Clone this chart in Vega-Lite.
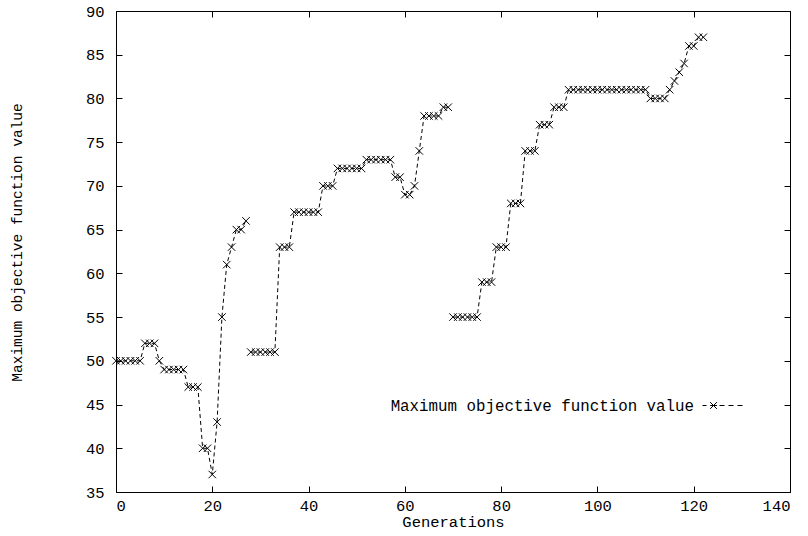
{
  "$schema": "https://vega.github.io/schema/vega-lite/v6.json",
  "width": 674,
  "height": 481,
  "autosize": {"type": "none"},
  "padding": {"left": 116, "top": 11, "right": 18, "bottom": 44},
  "background": "white",
  "config": {
    "view": {"stroke": "black", "strokeWidth": 1},
    "font": "Liberation Mono",
    "axis": {
      "grid": false,
      "domain": false,
      "tickColor": "black",
      "tickSize": -6,
      "labelFont": "Liberation Mono",
      "labelFontSize": 15.5,
      "labelColor": "black",
      "titleFont": "Liberation Mono",
      "titleFontSize": 15.5,
      "titleFontWeight": "normal",
      "titleColor": "black"
    },
    "legend": {"labelFont": "Liberation Mono", "labelFontSize": 15.8, "labelColor": "black", "labelLimit": 0}
  },
  "data": {
    "values": [
      {"g": 0, "v": 50, "seg": 1}, {"g": 1, "v": 50, "seg": 1}, {"g": 2, "v": 50, "seg": 1}, {"g": 3, "v": 50, "seg": 1},
      {"g": 4, "v": 50, "seg": 1}, {"g": 5, "v": 50, "seg": 1}, {"g": 6, "v": 52, "seg": 1}, {"g": 7, "v": 52, "seg": 1},
      {"g": 8, "v": 52, "seg": 1}, {"g": 9, "v": 50, "seg": 1}, {"g": 10, "v": 49, "seg": 1}, {"g": 11, "v": 49, "seg": 1},
      {"g": 12, "v": 49, "seg": 1}, {"g": 13, "v": 49, "seg": 1}, {"g": 14, "v": 49, "seg": 1}, {"g": 15, "v": 47, "seg": 1},
      {"g": 16, "v": 47, "seg": 1}, {"g": 17, "v": 47, "seg": 1}, {"g": 18, "v": 40, "seg": 1}, {"g": 19, "v": 40, "seg": 1},
      {"g": 20, "v": 37, "seg": 1}, {"g": 21, "v": 43, "seg": 1}, {"g": 22, "v": 55, "seg": 1}, {"g": 23, "v": 61, "seg": 1},
      {"g": 24, "v": 63, "seg": 1}, {"g": 25, "v": 65, "seg": 1}, {"g": 26, "v": 65, "seg": 1}, {"g": 27, "v": 66, "seg": 1},
      {"g": 28, "v": 51, "seg": 2}, {"g": 29, "v": 51, "seg": 2}, {"g": 30, "v": 51, "seg": 2}, {"g": 31, "v": 51, "seg": 2},
      {"g": 32, "v": 51, "seg": 2}, {"g": 33, "v": 51, "seg": 2}, {"g": 34, "v": 63, "seg": 2}, {"g": 35, "v": 63, "seg": 2},
      {"g": 36, "v": 63, "seg": 2}, {"g": 37, "v": 67, "seg": 2}, {"g": 38, "v": 67, "seg": 2}, {"g": 39, "v": 67, "seg": 2},
      {"g": 40, "v": 67, "seg": 2}, {"g": 41, "v": 67, "seg": 2}, {"g": 42, "v": 67, "seg": 2}, {"g": 43, "v": 70, "seg": 2},
      {"g": 44, "v": 70, "seg": 2}, {"g": 45, "v": 70, "seg": 2}, {"g": 46, "v": 72, "seg": 2}, {"g": 47, "v": 72, "seg": 2},
      {"g": 48, "v": 72, "seg": 2}, {"g": 49, "v": 72, "seg": 2}, {"g": 50, "v": 72, "seg": 2}, {"g": 51, "v": 72, "seg": 2},
      {"g": 52, "v": 73, "seg": 2}, {"g": 53, "v": 73, "seg": 2}, {"g": 54, "v": 73, "seg": 2}, {"g": 55, "v": 73, "seg": 2},
      {"g": 56, "v": 73, "seg": 2}, {"g": 57, "v": 73, "seg": 2}, {"g": 58, "v": 71, "seg": 2}, {"g": 59, "v": 71, "seg": 2},
      {"g": 60, "v": 69, "seg": 2}, {"g": 61, "v": 69, "seg": 2}, {"g": 62, "v": 70, "seg": 2}, {"g": 63, "v": 74, "seg": 2},
      {"g": 64, "v": 78, "seg": 2}, {"g": 65, "v": 78, "seg": 2}, {"g": 66, "v": 78, "seg": 2}, {"g": 67, "v": 78, "seg": 2},
      {"g": 68, "v": 79, "seg": 2}, {"g": 69, "v": 79, "seg": 2},
      {"g": 70, "v": 55, "seg": 3}, {"g": 71, "v": 55, "seg": 3}, {"g": 72, "v": 55, "seg": 3}, {"g": 73, "v": 55, "seg": 3},
      {"g": 74, "v": 55, "seg": 3}, {"g": 75, "v": 55, "seg": 3}, {"g": 76, "v": 59, "seg": 3}, {"g": 77, "v": 59, "seg": 3},
      {"g": 78, "v": 59, "seg": 3}, {"g": 79, "v": 63, "seg": 3}, {"g": 80, "v": 63, "seg": 3}, {"g": 81, "v": 63, "seg": 3},
      {"g": 82, "v": 68, "seg": 3}, {"g": 83, "v": 68, "seg": 3}, {"g": 84, "v": 68, "seg": 3}, {"g": 85, "v": 74, "seg": 3},
      {"g": 86, "v": 74, "seg": 3}, {"g": 87, "v": 74, "seg": 3}, {"g": 88, "v": 77, "seg": 3}, {"g": 89, "v": 77, "seg": 3},
      {"g": 90, "v": 77, "seg": 3}, {"g": 91, "v": 79, "seg": 3}, {"g": 92, "v": 79, "seg": 3}, {"g": 93, "v": 79, "seg": 3},
      {"g": 94, "v": 81, "seg": 3}, {"g": 95, "v": 81, "seg": 3}, {"g": 96, "v": 81, "seg": 3}, {"g": 97, "v": 81, "seg": 3},
      {"g": 98, "v": 81, "seg": 3}, {"g": 99, "v": 81, "seg": 3}, {"g": 100, "v": 81, "seg": 3}, {"g": 101, "v": 81, "seg": 3},
      {"g": 102, "v": 81, "seg": 3}, {"g": 103, "v": 81, "seg": 3}, {"g": 104, "v": 81, "seg": 3}, {"g": 105, "v": 81, "seg": 3},
      {"g": 106, "v": 81, "seg": 3}, {"g": 107, "v": 81, "seg": 3}, {"g": 108, "v": 81, "seg": 3}, {"g": 109, "v": 81, "seg": 3},
      {"g": 110, "v": 81, "seg": 3}, {"g": 111, "v": 80, "seg": 3}, {"g": 112, "v": 80, "seg": 3}, {"g": 113, "v": 80, "seg": 3},
      {"g": 114, "v": 80, "seg": 3}, {"g": 115, "v": 81, "seg": 3}, {"g": 116, "v": 82, "seg": 3}, {"g": 117, "v": 83, "seg": 3},
      {"g": 118, "v": 84, "seg": 3}, {"g": 119, "v": 86, "seg": 3}, {"g": 120, "v": 86, "seg": 3}, {"g": 121, "v": 87, "seg": 3},
      {"g": 122, "v": 87, "seg": 3}
    ]
  },
  "resolve": {"axis": {"x": "independent", "y": "independent"}},
  "layer": [
    {
      "mark": {"type": "line", "strokeDash": [4, 3], "strokeWidth": 1, "color": "black"},
      "encoding": {
        "x": {"field": "g", "type": "quantitative", "scale": {"domain": [0, 140], "nice": false, "zero": false},
              "axis": {"orient": "top", "labels": false, "title": null, "values": [0, 20, 40, 60, 80, 100, 120, 140]}},
        "y": {"field": "v", "type": "quantitative", "scale": {"domain": [35, 90], "nice": false, "zero": false},
              "axis": {"orient": "right", "labels": false, "title": null, "values": [35, 40, 45, 50, 55, 60, 65, 70, 75, 80, 85, 90]}},
        "detail": {"field": "seg", "type": "nominal"}
      }
    },
    {
      "mark": {"type": "point", "shape": "M-1,-1L1,1M1,-1L-1,1", "filled": false, "size": 56, "strokeWidth": 1, "opacity": 1},
      "encoding": {
        "x": {"field": "g", "type": "quantitative",
              "axis": {"orient": "bottom", "title": "Generations", "values": [0, 20, 40, 60, 80, 100, 120, 140], "labelPadding": 12, "titlePadding": 1}},
        "y": {"field": "v", "type": "quantitative",
              "axis": {"orient": "left", "title": "Maximum objective function value", "titleFontSize": 14.5, "titleY": 231, "values": [35, 40, 45, 50, 55, 60, 65, 70, 75, 80, 85, 90], "labelPadding": 18, "titlePadding": 61}},
        "color": {
          "datum": "Maximum objective function value",
          "scale": {"range": ["black"]},
          "legend": {
            "title": null,
            "orient": "none",
            "legendX": 586,
            "legendY": 374,
            "padding": 0,
            "symbolType": "M-1,0L-0.8,0M-0.62,-0.17L-0.28,0.17M-0.28,-0.17L-0.62,0.17M-0.62,0L-0.28,0M-0.15,0L0.1,0M0.3,0L0.55,0M0.75,0L1,0",
            "symbolSize": 1600,
            "symbolStrokeWidth": 1,
            "symbolStrokeColor": "black",
            "labelAlign": "right",
            "labelOffset": -49
          }
        }
      }
    }
  ]
}
